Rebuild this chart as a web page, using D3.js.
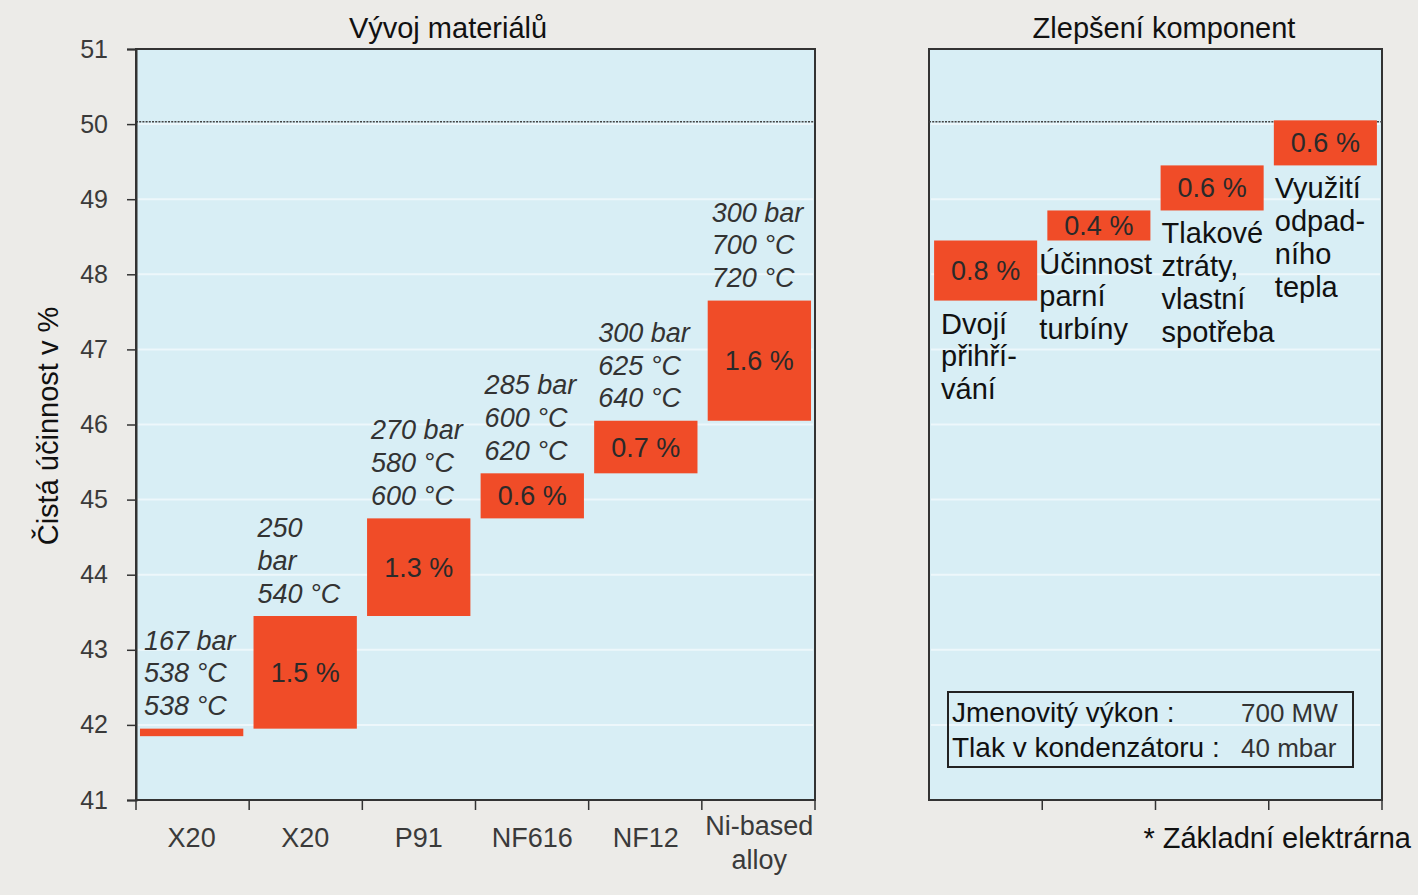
<!DOCTYPE html>
<html><head><meta charset="utf-8">
<script src="https://cdn.jsdelivr.net/npm/d3@7"></script>
<style>
html,body{margin:0;padding:0;background:#ecebe8;}
svg{display:block;font-family:"Liberation Sans",Arial,Helvetica,sans-serif;}
</style></head>
<body><svg id="c" width="1418" height="895"></svg>
<script>
// ---- data ----
const yTicks = [41,42,43,44,45,46,47,48,49,50,51];
const materials = ["X20","X20","P91","NF616","NF12","Ni-based|alloy"];
const matStart = [41.85,41.95,43.45,44.75,45.35,46.05];
const matGain  = [0.1,1.5,1.3,0.6,0.7,1.6];
const matGainLabel = ["","1.5 %","1.3 %","0.6 %","0.7 %","1.6 %"];
const matNotes = [
  ["167 bar","538 °C","538 °C"],
  ["250","bar","540 °C"],
  ["270 bar","580 °C","600 °C"],
  ["285 bar","600 °C","620 °C"],
  ["300 bar","625 °C","640 °C"],
  ["300 bar","700 °C","720 °C"]
];
const components = ["Dvojí přihřívání","Účinnost parní turbíny","Tlakové ztráty, vlastní spotřeba","Využití odpadního tepla"];
const compStart = [47.65,48.45,48.85,49.45];
const compGain  = [0.8,0.4,0.6,0.6];
const compGainLabel = ["0.8 %","0.4 %","0.6 %","0.6 %"];
const compNotes = [
  ["Dvojí","přihří-","vání"],
  ["Účinnost","parní","turbíny"],
  ["Tlakové","ztráty,","vlastní","spotřeba"],
  ["Využití","odpad-","ního","tepla"]
];
const referenceLine = 50.03;
const infoLabels = ["Jmenovitý výkon :","Tlak v kondenzátoru :"];
const infoValues = ["700 MW","40 mbar"];
const titleLeft = "Vývoj materiálů";
const titleRight = "Zlepšení komponent";
const yTitle = "Čistá účinnost v %";
const footnote = "* Základní elektrárna";

// ---- layout ----
const svg = d3.select("#c");
const barColor = "#f04c28", panelFill = "#d8eef5", ink = "#333";
const y = d3.scaleLinear().domain([41,51]).range([800,49]);
const xL = d3.scaleBand().domain(d3.range(materials.length)).range([136,815]).paddingInner(0.09).paddingOuter(0.035);
const xR = d3.scaleBand().domain(d3.range(components.length)).range([929,1382]).paddingInner(0.09).paddingOuter(0.045);

function panel(x0,x1){
  svg.append("rect").attr("x",x0).attr("y",y(51)).attr("width",x1-x0).attr("height",y(41)-y(51))
    .attr("fill",panelFill);
  svg.append("g").selectAll("line").data(yTicks.slice(1,-1)).join("line")
    .attr("x1",x0+2).attr("x2",x1-2).attr("y1",d=>y(d)).attr("y2",d=>y(d))
    .attr("stroke","#fff").attr("stroke-opacity",0.55).attr("stroke-width",2);
  svg.append("rect").attr("x",x0).attr("y",y(51)).attr("width",x1-x0).attr("height",y(41)-y(51))
    .attr("fill","none").attr("stroke",ink).attr("stroke-width",2);
  svg.append("line").attr("x1",x0).attr("x2",x1).attr("y1",y(referenceLine)).attr("y2",y(referenceLine))
    .attr("stroke","#444").attr("stroke-width",1.5).attr("stroke-dasharray","2,1.2");
}
panel(136,815);
panel(929,1382);

// y axis
const yAx = svg.append("g").attr("transform","translate(136,0)")
  .call(d3.axisLeft(y).tickValues(yTicks).tickSize(9).tickPadding(19).tickFormat(d3.format("d")));
yAx.select(".domain").attr("stroke",ink).attr("stroke-width",2);
yAx.selectAll(".tick line").attr("stroke",ink).attr("stroke-width",1.5);
yAx.selectAll(".tick text").attr("font-size",25).attr("fill","#3a3a3a").attr("font-family","Liberation Sans, Arial");

// x axis ticks (band boundaries)
const bL = d3.range(materials.length+1).map(i=>136+i*(815-136)/materials.length);
svg.append("g").selectAll("line").data(bL).join("line")
  .attr("x1",d=>d).attr("x2",d=>d).attr("y1",y(41)).attr("y2",y(41)+10).attr("stroke",ink).attr("stroke-width",1.5);
const bR = d3.range(1,components.length+1).map(i=>929+i*(1382-929)/components.length);
svg.append("g").selectAll("line").data(bR).join("line")
  .attr("x1",d=>d).attr("x2",d=>d).attr("y1",y(41)).attr("y2",y(41)+10).attr("stroke",ink).attr("stroke-width",1.5);

// x labels
const xl = svg.append("g").selectAll("text").data(materials).join("text")
  .attr("x",(d,i)=>xL(i)+xL.bandwidth()/2).attr("text-anchor","middle")
  .attr("font-size",27).attr("fill","#3a3a3a");
xl.each(function(d){
  const parts = d.split("|"); const t = d3.select(this);
  parts.forEach((p,k)=>{
    t.append("tspan").attr("x",t.attr("x")).attr("y", parts.length===1 ? 847 : 835 + k*34).text(p);
  });
});

// material bars
svg.append("g").selectAll("rect").data(matStart).join("rect")
  .attr("x",(d,i)=>xL(i)).attr("width",xL.bandwidth())
  .attr("y",(d,i)=>y(d+matGain[i])).attr("height",(d,i)=>y(d)-y(d+matGain[i]))
  .attr("fill",barColor);
svg.append("g").selectAll("text").data(matGainLabel).join("text")
  .attr("x",(d,i)=>xL(i)+xL.bandwidth()/2)
  .attr("y",(d,i)=>y(matStart[i]+matGain[i]/2)+9.5)
  .attr("text-anchor","middle").attr("font-size",27).attr("fill","#2a2a2a").text(d=>d);
matNotes.forEach((lines,i)=>{
  const top = y(matStart[i]+matGain[i]);
  const n = lines.length;
  lines.forEach((s,k)=>{
    svg.append("text").attr("x",xL(i)+4).attr("y",top-23-(n-1-k)*32.7+9.5)
      .attr("font-size",27).attr("font-style","italic").attr("fill","#333").text(s);
  });
});

// component bars
svg.append("g").selectAll("rect").data(compStart).join("rect")
  .attr("x",(d,i)=>xR(i)).attr("width",xR.bandwidth())
  .attr("y",(d,i)=>y(d+compGain[i])).attr("height",(d,i)=>y(d)-y(d+compGain[i]))
  .attr("fill",barColor);
svg.append("g").selectAll("text").data(compGainLabel).join("text")
  .attr("x",(d,i)=>xR(i)+xR.bandwidth()/2)
  .attr("y",(d,i)=>y(compStart[i]+compGain[i]/2)+9.5)
  .attr("text-anchor","middle").attr("font-size",27).attr("fill","#2a2a2a").text(d=>d);
compNotes.forEach((lines,i)=>{
  const bot = y(compStart[i]);
  lines.forEach((s,k)=>{
    svg.append("text").attr("x",xR(i)+(i===1?-8:(i===0?7:1))).attr("y",bot+23+k*32.8+10)
      .attr("font-size",29).attr("fill","#111").text(s);
  });
});

// info box
svg.append("rect").attr("x",948).attr("y",692).attr("width",405).attr("height",75)
  .attr("fill","none").attr("stroke","#222").attr("stroke-width",2);
infoLabels.forEach((s,k)=>{
  svg.append("text").attr("x",952).attr("y",722+k*35).attr("font-size",28).attr("fill","#111").text(s);
  svg.append("text").attr("x",1241).attr("y",722+k*35).attr("font-size",26).attr("fill","#333").text(infoValues[k]);
});

// titles
svg.append("text").attr("x",448).attr("y",38).attr("text-anchor","middle").attr("font-size",29).attr("fill","#111").text(titleLeft);
svg.append("text").attr("x",1164).attr("y",38).attr("text-anchor","middle").attr("font-size",29).attr("fill","#111").text(titleRight);
svg.append("text").attr("transform","translate(58,426) rotate(-90)").attr("text-anchor","middle")
  .attr("font-size",29).attr("fill","#111").text(yTitle);
svg.append("text").attr("x",1411).attr("y",848).attr("text-anchor","end").attr("font-size",29).attr("fill","#111").text(footnote);
</script></body></html>
